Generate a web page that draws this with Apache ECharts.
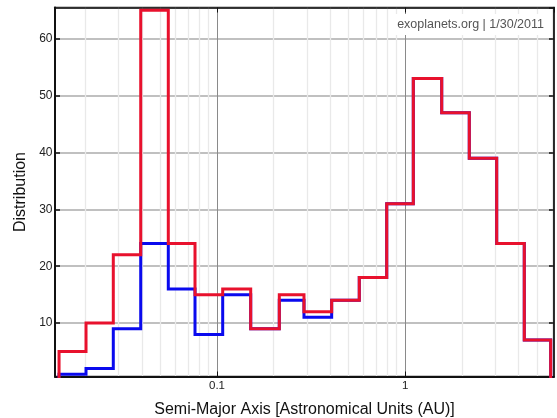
<!DOCTYPE html>
<html>
<head>
<meta charset="utf-8">
<script src="https://cdn.jsdelivr.net/npm/echarts@6/dist/echarts.min.js"></script>
<style>
html,body{margin:0;padding:0;background:#fff;}
#c{width:557px;height:418px;}
</style>
</head>
<body>
<div id="c"></div>
<script>
// Histogram bin edges (AU)
var binEdges = [0.01449, 0.02015, 0.02813, 0.03934, 0.05512, 0.07641, 0.1072, 0.1510, 0.2142, 0.2897, 0.4064, 0.5697, 0.7968, 1.103, 1.561, 2.187, 3.058, 4.285, 5.918];
// Counts per bin
var allPlanets = [5, 10, 22, 65, 24, 15, 16, 9, 15, 12, 14, 18, 31, 53, 47, 39, 24, 7];
var subsetPlanets = [1, 2, 9, 24, 16, 8, 15, 9, 14, 11, 14, 18, 31, 53, 47, 39, 24, 7];
// Axis ranges and grid values
var xMin = 0.01379, xMax = 6.163;
var yMin = 0.6, yMax = 65.5;
var minorGrid = [0.02, 0.03, 0.04, 0.05, 0.06, 0.07, 0.08, 0.09, 0.2, 0.3, 0.4, 0.5, 0.6, 0.7, 0.8, 0.9, 2, 3, 4, 5, 6];
var stamp = 'exoplanets.org | 1/30/2011';

function stepPoints(edges, counts) {
  var pts = [[edges[0], 0]];
  for (var i = 0; i < counts.length; i++) {
    pts.push([edges[i], counts[i]]);
    pts.push([edges[i + 1], counts[i]]);
  }
  pts.push([edges[edges.length - 1], 0]);
  return pts;
}

var font = 'Liberation Sans, Arial, Helvetica, sans-serif';
var chart = echarts.init(document.getElementById('c'), null, {renderer: 'canvas'});
chart.setOption({
  animation: false,
  backgroundColor: '#fff',
  grid: {left: 55, right: 3, top: 7.5, bottom: 41.5, show: true, borderColor: '#222', borderWidth: 1.5, containLabel: false, outerBoundsMode: 'none'},
  xAxis: [{
    type: 'log', logBase: 10, min: xMin, max: xMax, position: 'bottom',
    name: 'Semi-Major Axis [Astronomical Units (AU)]', nameLocation: 'middle', nameGap: 25.5,
    nameTextStyle: {fontFamily: font, fontSize: 16, color: '#111'},
    axisLine: {show: true, onZero: false, lineStyle: {color: '#111', width: 2}},
    axisTick: {show: true, inside: true, length: 5, lineStyle: {color: '#111', width: 1}},
    axisLabel: {show: true, margin: 3, fontFamily: font, fontSize: 11.5, color: '#222', showMinLabel: false, showMaxLabel: false},
    splitLine: {show: true, lineStyle: {color: '#8a8a8a', width: 1}},
    minorTick: {show: false}, minorSplitLine: {show: false}
  }, {
    type: 'log', logBase: 10, min: xMin, max: xMax, position: 'top',
    axisLine: {show: true, onZero: false, lineStyle: {color: '#111', width: 1.5}},
    axisTick: {show: true, inside: true, length: 5, lineStyle: {color: '#111', width: 1}},
    axisLabel: {show: false}, splitLine: {show: false}
  }],
  yAxis: [{
    type: 'value', min: yMin, max: yMax, splitNumber: 6, position: 'left',
    name: 'Distribution', nameLocation: 'middle', nameGap: 24, nameRotate: 90,
    nameTextStyle: {fontFamily: font, fontSize: 16, color: '#111'},
    axisLine: {show: true, onZero: false, lineStyle: {color: '#111', width: 2}},
    axisTick: {show: true, inside: true, length: 5, lineStyle: {color: '#111', width: 1.5}},
    axisLabel: {show: true, margin: 2.5, fontFamily: font, fontSize: 12, color: '#222', showMinLabel: false, showMaxLabel: false},
    splitLine: {show: true, lineStyle: {color: '#ababab', width: 1.5}}
  }, {
    type: 'value', min: yMin, max: yMax, splitNumber: 6, position: 'right',
    axisLine: {show: true, onZero: false, lineStyle: {color: '#111', width: 1.5}},
    axisTick: {show: true, inside: true, length: 5, lineStyle: {color: '#111', width: 1.5}},
    axisLabel: {show: false}, splitLine: {show: false}
  }],
  series: [{
    type: 'line', name: 'minor', data: [], z: 0, silent: true,
    markLine: {
      silent: true, symbol: ['none', 'none'], z: 0, animation: false,
      label: {show: false},
      lineStyle: {color: '#e9e9e9', width: 1.3, type: 'solid'},
      emphasis: {disabled: true},
      data: minorGrid.map(function (v) { return {xAxis: v}; })
    }
  }, {
    type: 'line', name: 'subset', data: stepPoints(binEdges, subsetPlanets), z: 3,
    showSymbol: false, symbol: 'none', clip: true,
    lineStyle: {color: '#0a0aee', width: 3, join: 'miter', cap: 'butt'}
  }, {
    type: 'line', name: 'all', data: stepPoints(binEdges, allPlanets), z: 4,
    showSymbol: false, symbol: 'none', clip: true,
    lineStyle: {color: '#e8112d', width: 3, join: 'miter', cap: 'butt'}
  }],
  graphic: [{
    type: 'text', right: 10, top: 14, z: 100,
    style: {text: stamp, fontFamily: font, fontSize: 12.5, fill: '#555',
      backgroundColor: '#fff', padding: [4, 3, 4, 3]}
  }]
});
</script>
</body>
</html>
